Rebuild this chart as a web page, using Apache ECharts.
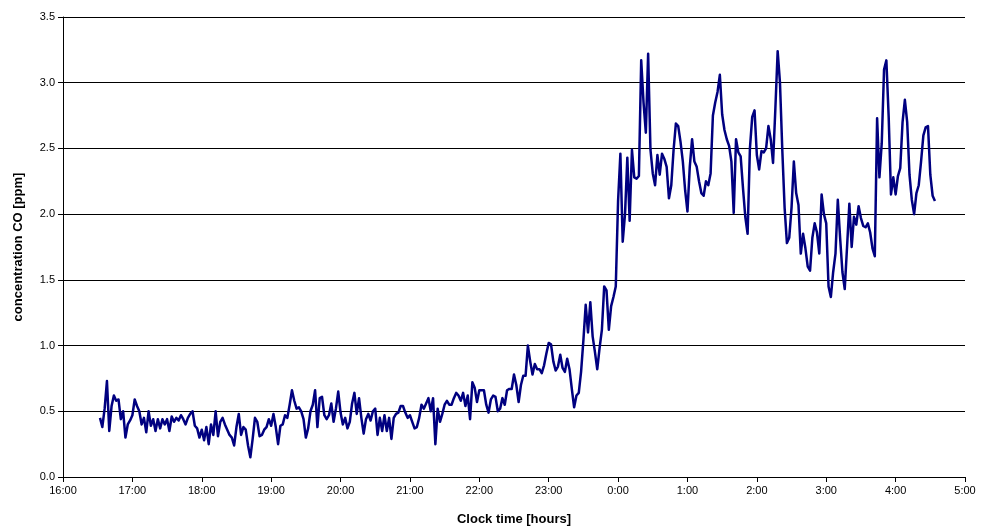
<!DOCTYPE html>
<html>
<head>
<meta charset="utf-8">
<script src="https://cdn.jsdelivr.net/npm/echarts@6/dist/echarts.min.js"></script>
<style>
  html, body { margin: 0; padding: 0; background: #fff; }
  #chart { width: 990px; height: 531px; }
</style>
</head>
<body>
<div id="chart"></div>
<script>
// CO concentration, one reading every 2 minutes starting at 16:32
const startHour = 16 + 32 / 60;
const stepMinutes = 2;

const coPpm = [
  // 16:32 - 17:30
  0.45, 0.38, 0.52, 0.73, 0.35, 0.54, 0.62, 0.58, 0.59, 0.44,
  0.50, 0.30, 0.40, 0.43, 0.47, 0.59, 0.54, 0.50, 0.40, 0.45,
  0.34, 0.50, 0.39, 0.44, 0.35, 0.44, 0.37, 0.44, 0.40, 0.44,
  // 17:32 - 18:30
  0.35, 0.46, 0.42, 0.45, 0.43, 0.47, 0.44, 0.40, 0.45, 0.48,
  0.50, 0.39, 0.37, 0.30, 0.36, 0.28, 0.38, 0.25, 0.40, 0.32,
  0.50, 0.31, 0.42, 0.45, 0.40, 0.36, 0.32, 0.30, 0.24, 0.38,
  // 18:32 - 19:30
  0.48, 0.32, 0.38, 0.36, 0.24, 0.15, 0.29, 0.45, 0.42, 0.31,
  0.32, 0.36, 0.38, 0.44, 0.39, 0.48, 0.38, 0.25, 0.39, 0.40,
  0.47, 0.45, 0.55, 0.66, 0.58, 0.52, 0.53, 0.50, 0.44, 0.30,
  // 19:32 - 20:30
  0.37, 0.50, 0.55, 0.66, 0.38, 0.60, 0.61, 0.47, 0.44, 0.47,
  0.56, 0.42, 0.52, 0.65, 0.49, 0.40, 0.45, 0.37, 0.42, 0.56,
  0.64, 0.48, 0.60, 0.45, 0.33, 0.44, 0.48, 0.43, 0.50, 0.52,
  // 20:32 - 21:30
  0.32, 0.45, 0.35, 0.47, 0.35, 0.45, 0.29, 0.45, 0.48, 0.49,
  0.54, 0.54, 0.49, 0.45, 0.47, 0.42, 0.37, 0.38, 0.45, 0.55,
  0.52, 0.56, 0.60, 0.50, 0.60, 0.25, 0.52, 0.42, 0.48, 0.55,
  // 21:32 - 22:30
  0.58, 0.55, 0.55, 0.60, 0.64, 0.62, 0.58, 0.64, 0.54, 0.62,
  0.44, 0.72, 0.68, 0.57, 0.66, 0.66, 0.66, 0.55, 0.49, 0.59,
  0.62, 0.61, 0.50, 0.52, 0.60, 0.55, 0.66, 0.67, 0.67, 0.78,
  // 22:32 - 23:30
  0.70, 0.57, 0.70, 0.77, 0.77, 1.00, 0.88, 0.78, 0.86, 0.82,
  0.82, 0.79, 0.85, 0.94, 1.02, 1.01, 0.88, 0.81, 0.84, 0.93,
  0.83, 0.80, 0.90, 0.82, 0.67, 0.53, 0.62, 0.64, 0.80, 1.04,
  // 23:32 - 0:30
  1.31, 1.10, 1.33, 1.07, 0.95, 0.82, 0.98, 1.12, 1.45, 1.42,
  1.12, 1.30, 1.37, 1.45, 2.10, 2.46, 1.79, 2.00, 2.43, 1.95,
  2.49, 2.28, 2.27, 2.29, 3.17, 2.85, 2.62, 3.22, 2.49, 2.31,
  // 0:32 - 1:30
  2.22, 2.45, 2.30, 2.46, 2.42, 2.36, 2.12, 2.22, 2.49, 2.69,
  2.67, 2.55, 2.40, 2.18, 2.02, 2.36, 2.57, 2.40, 2.36, 2.25,
  2.16, 2.14, 2.25, 2.22, 2.31, 2.75, 2.85, 2.93, 3.06, 2.76,
  // 1:32 - 2:30
  2.64, 2.57, 2.52, 2.40, 2.01, 2.57, 2.47, 2.44, 2.20, 1.98,
  1.85, 2.50, 2.74, 2.79, 2.45, 2.34, 2.48, 2.47, 2.50, 2.67,
  2.57, 2.39, 2.80, 3.24, 3.00, 2.49, 2.05, 1.78, 1.82, 2.05,
  // 2:32 - 3:30
  2.40, 2.16, 2.07, 1.70, 1.85, 1.74, 1.60, 1.57, 1.82, 1.93,
  1.86, 1.70, 2.15, 2.00, 1.93, 1.45, 1.37, 1.56, 1.70, 2.11,
  1.82, 1.56, 1.43, 1.75, 2.08, 1.75, 1.98, 1.92, 2.06, 1.97,
  // 3:32 - 4:34
  1.91, 1.90, 1.93, 1.86, 1.74, 1.68, 2.73, 2.28, 2.54, 3.10,
  3.17, 2.74, 2.15, 2.28, 2.15, 2.29, 2.35, 2.70, 2.87, 2.70,
  2.30, 2.11, 2.00, 2.16, 2.22, 2.40, 2.60, 2.66, 2.67, 2.30,
  2.14, 2.10
];

// Axis ranges (hours past midnight of the first day; 24+ means next day)
const xMin = 16, xMax = 29, xStep = 1;
const yMin = 0, yMax = 3.5, yStep = 0.5;

const points = coPpm.map((v, i) => [startHour + i * stepMinutes / 60, v]);

const chart = echarts.init(document.getElementById('chart'), null, { renderer: 'canvas' });
const axisFont = { fontFamily: 'Liberation Sans, Arial, sans-serif', fontSize: 11, color: '#000' };
const nameFont = { fontFamily: 'Liberation Sans, Arial, sans-serif', fontSize: 13, fontWeight: 'bold', color: '#000' };

chart.setOption({
  animation: false,
  backgroundColor: '#fff',
  grid: { left: 63, right: 25, top: 17, bottom: 53, containLabel: false },
  xAxis: {
    type: 'value',
    min: xMin, max: xMax, interval: xStep,
    name: 'Clock time [hours]',
    nameLocation: 'middle',
    nameGap: 36,
    nameTextStyle: nameFont,
    axisLine: { show: true, onZero: false, lineStyle: { color: '#000', width: 1 } },
    axisTick: { show: true, inside: false, length: 5, lineStyle: { color: '#000' } },
    axisLabel: Object.assign({
      margin: 8,
      formatter: v => (Math.round(v) % 24) + ':00'
    }, axisFont),
    splitLine: { show: false }
  },
  yAxis: {
    type: 'value',
    min: yMin, max: yMax, interval: yStep,
    name: 'concentration CO [ppm]',
    nameLocation: 'middle',
    nameGap: 38,
    nameRotate: 90,
    nameTextStyle: nameFont,
    axisLine: { show: true, lineStyle: { color: '#000', width: 1 } },
    axisTick: { show: true, inside: false, length: 5, lineStyle: { color: '#000' } },
    axisLabel: Object.assign({
      margin: 8,
      formatter: v => v.toFixed(1)
    }, axisFont),
    splitLine: { show: true, lineStyle: { color: '#000', width: 1 } }
  },
  series: [{
    type: 'line',
    data: points,
    showSymbol: false,
    symbol: 'none',
    smooth: false,
    lineStyle: { color: '#000080', width: 2.5, join: 'round' },
    itemStyle: { color: '#000080' }
  }]
});
</script>
</body>
</html>
